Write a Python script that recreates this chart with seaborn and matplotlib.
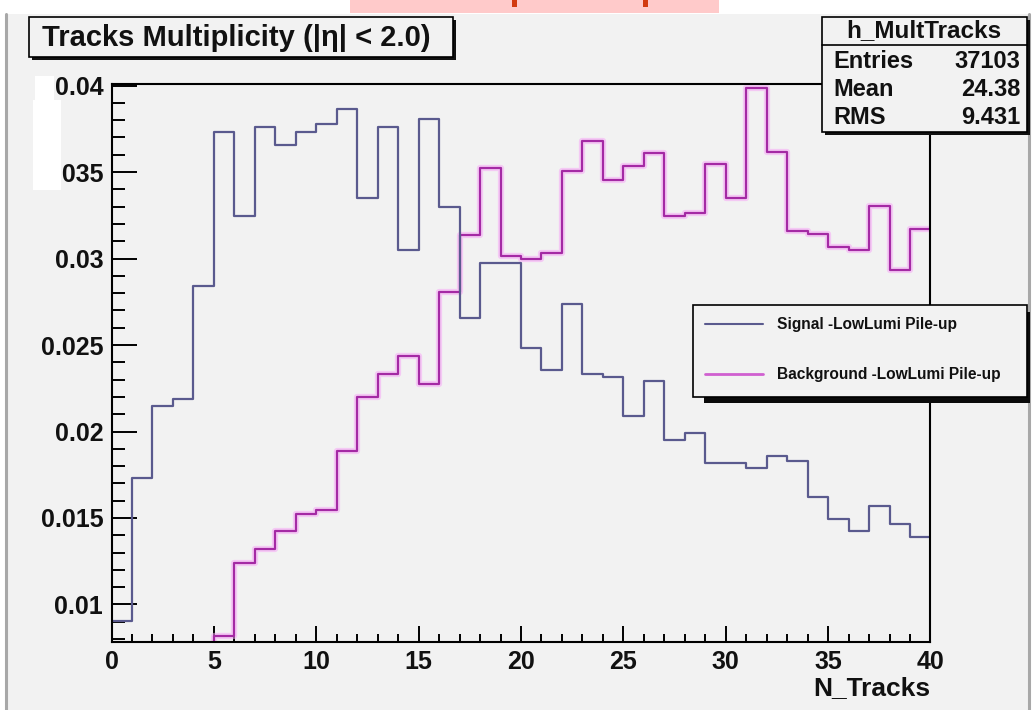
import numpy as np
import pandas as pd
import matplotlib
matplotlib.use("Agg")
import matplotlib.pyplot as plt
import seaborn as sns
from matplotlib.patches import Rectangle
from matplotlib.lines import Line2D
from matplotlib.ticker import MultipleLocator, FixedLocator, FixedFormatter

# ---------------- data ----------------
n_tracks_edges = list(range(0, 41))
signal_values = [0.00907, 0.01733, 0.02147, 0.02188, 0.02839, 0.03734, 0.03246, 0.03763, 0.03659, 0.03734,
                 0.03775, 0.03866, 0.03351, 0.03763, 0.03048, 0.03806, 0.03298, 0.02655, 0.02977, 0.02977,
                 0.02481, 0.02355, 0.02736, 0.02330, 0.02314, 0.02087, 0.02291, 0.01953, 0.01992, 0.01816,
                 0.01816, 0.01787, 0.01856, 0.01827, 0.01622, 0.01496, 0.01423, 0.01570, 0.01467, 0.01391]
background_values = [0.0, 0.0, 0.0, 0.0, 0.0, 0.0082, 0.01237, 0.01318, 0.01423, 0.01525,
                     0.01545, 0.0189, 0.0220, 0.02335, 0.02438, 0.02273, 0.02804, 0.03134, 0.03525, 0.03017,
                     0.02998, 0.03033, 0.03506, 0.03678, 0.03455, 0.03533, 0.03609, 0.03246, 0.03266, 0.03545,
                     0.03351, 0.03988, 0.03618, 0.03159, 0.03144, 0.03068, 0.03048, 0.03304, 0.02932, 0.03173]
series_labels = ["Signal -LowLumi Pile-up", "Background -LowLumi Pile-up"]
title_text = "Tracks Multiplicity (|\u03b7| < 2.0)"
x_label = "N_Tracks"
x_ticks = [0, 5, 10, 15, 20, 25, 30, 35, 40]
y_ticks = [0.01, 0.015, 0.02, 0.025, 0.03, 0.035, 0.04]
y_tick_labels = ["0.01", "0.015", "0.02", "0.025", "0.03", "0.035", "0.04"]
stats_name = "h_MultTracks"
stats_rows = [("Entries", "37103"), ("Mean", "24.38"), ("RMS", "9.431")]

# ---------------- style ----------------
sns.set_theme(style="ticks")
plt.rcParams["font.family"] = ["Liberation Sans", "DejaVu Sans"]
plt.rcParams["font.weight"] = "bold"
plt.rcParams["text.color"] = "#111111"

W, H = 1032, 710
BG = "#f2f2f2"
fig = plt.figure(figsize=(W / 100, H / 100), dpi=100, facecolor="white")


def fx(px):
    return px / W


def fy(py):
    return 1 - py / H


def fig_rect(x0, y0, x1, y1, **kw):
    r = Rectangle((fx(x0), fy(y1)), (x1 - x0) / W, (y1 - y0) / H,
                  transform=fig.transFigure, **kw)
    fig.patches.append(r)
    return r


# canvas panel
fig_rect(5, 14, 1029, 712, facecolor=BG, edgecolor="none", zorder=-5)
fig.add_artist(Line2D([fx(5.5), fx(5.5)], [fy(14), fy(710)], transform=fig.transFigure,
                      color="#a8a8a8", lw=2.2, zorder=-4))
fig.add_artist(Line2D([fx(1028.5), fx(1028.5)], [fy(14), fy(710)], transform=fig.transFigure,
                      color="#a8a8a8", lw=2.2, zorder=-4))
# pink strip at the top (cropped artefact)
fig_rect(350, 0, 719, 13, facecolor="#ffcaca", edgecolor="none", zorder=-4)
fig_rect(512, 0, 517, 7, facecolor="#d23a10", edgecolor="none", zorder=-3)
fig_rect(643, 0, 648, 7, facecolor="#d23a10", edgecolor="none", zorder=-3)
# white smear behind the top tick label
fig_rect(35, 76, 54, 100, facecolor="white", edgecolor="none", zorder=-3)

ax = fig.add_axes([fx(111.5), fy(641.5), (930.5 - 111.5) / W, (641.5 - 83.5) / H])
ax.set_facecolor("none")

centers = [e + 0.5 for e in n_tracks_edges[:-1]]
df = pd.DataFrame({
    "n_tracks": centers * 2,
    "weight": signal_values + background_values,
    "sample": [series_labels[0]] * len(centers) + [series_labels[1]] * len(centers),
})
sig = df[df["sample"] == series_labels[0]]
bkg = df[df["sample"] == series_labels[1]]

sig_color = "#5a5a8e"
bkg_color = "#a42aa4"
sns.histplot(data=bkg, x="n_tracks", weights="weight", bins=n_tracks_edges, element="step",
             fill=False, color="#f6a8f6", linewidth=4.5, alpha=0.55, ax=ax)
sns.histplot(data=bkg, x="n_tracks", weights="weight", bins=n_tracks_edges, element="step",
             fill=False, color=bkg_color, linewidth=1.6, ax=ax)
sns.histplot(data=sig, x="n_tracks", weights="weight", bins=n_tracks_edges, element="step",
             fill=False, color=sig_color, linewidth=1.6, ax=ax)

ax.set_xlim(0, 40)
ax.set_ylim(0.00786, 0.04012)
ax.set_xlabel("")
ax.set_ylabel("")

ax.xaxis.set_major_locator(FixedLocator(x_ticks))
ax.xaxis.set_minor_locator(MultipleLocator(1))
ax.set_xticklabels([str(t) for t in x_ticks])
ax.yaxis.set_major_locator(FixedLocator(y_ticks))
ax.yaxis.set_major_formatter(FixedFormatter(y_tick_labels))
ax.yaxis.set_minor_locator(MultipleLocator(0.001))

ax.tick_params(axis="both", which="both", direction="in", top=False, right=False,
               color="black", width=1.4)
ax.tick_params(axis="x", which="major", length=11.5, pad=6, labelsize=18)
ax.tick_params(axis="x", which="minor", length=5.8)
ax.tick_params(axis="y", which="major", length=18, pad=6, labelsize=18)
ax.tick_params(axis="y", which="minor", length=9.4)
for lab in ax.get_xticklabels() + ax.get_yticklabels():
    lab.set_fontweight("bold")
    lab.set_color("#111111")
for s in ax.spines.values():
    s.set_color("black")
    s.set_linewidth(1.5)
    s.set_visible(True)

# white smear covering the start of the 0.035 label
fig_rect(33, 100, 61, 190, facecolor="white", edgecolor="none", zorder=3)

# x label
fig.text(fx(930), fy(688), x_label, ha="right", va="center", fontsize=19, fontweight="bold")

# title box
fig_rect(32, 20, 456, 60, facecolor="#111111", edgecolor="none", zorder=4)
fig_rect(29, 17, 453, 57, facecolor=BG, edgecolor="black", lw=1.2, zorder=5)
fig.text(fx(236), fy(38), title_text, ha="center", va="center", fontsize=21,
         fontweight="bold", zorder=6)

# stats box
fig_rect(825, 20, 1030, 135, facecolor="#111111", edgecolor="none", zorder=4)
fig_rect(822, 17, 1027, 132, facecolor=BG, edgecolor="black", lw=1.2, zorder=5)
fig.add_artist(Line2D([fx(822), fx(1027)], [fy(45), fy(45)], transform=fig.transFigure,
                      color="black", lw=1.2, zorder=6))
fig.text(fx(924), fy(31), stats_name, ha="center", va="center", fontsize=17.5,
         fontweight="bold", zorder=6)
for i, (k, v) in enumerate(stats_rows):
    yy = 61 + i * 28
    fig.text(fx(833), fy(yy), k, ha="left", va="center", fontsize=17, fontweight="bold", zorder=6)
    fig.text(fx(1020), fy(yy), v, ha="right", va="center", fontsize=17, fontweight="bold", zorder=6)

# legend box
fig_rect(704, 312, 1030, 403, facecolor="#0a0a0a", edgecolor="none", zorder=4)
fig_rect(693, 305, 1027, 397, facecolor=BG, edgecolor="black", lw=1.2, zorder=5)
handles = [Line2D([], [], color=sig_color, lw=1.5),
           Line2D([], [], color="#d060d0", lw=2.0)]
leg = fig.legend(handles, series_labels, loc="upper left",
                 bbox_to_anchor=(fx(705), fy(317)), bbox_transform=fig.transFigure,
                 frameon=False, fontsize=11.2, handlelength=3.7, handletextpad=0.95,
                 labelspacing=2.25, borderaxespad=0, borderpad=0)
leg.set_zorder(7)
for t in leg.get_texts():
    t.set_fontweight("bold")

fig.savefig("out.png", dpi=100, facecolor=fig.get_facecolor())
